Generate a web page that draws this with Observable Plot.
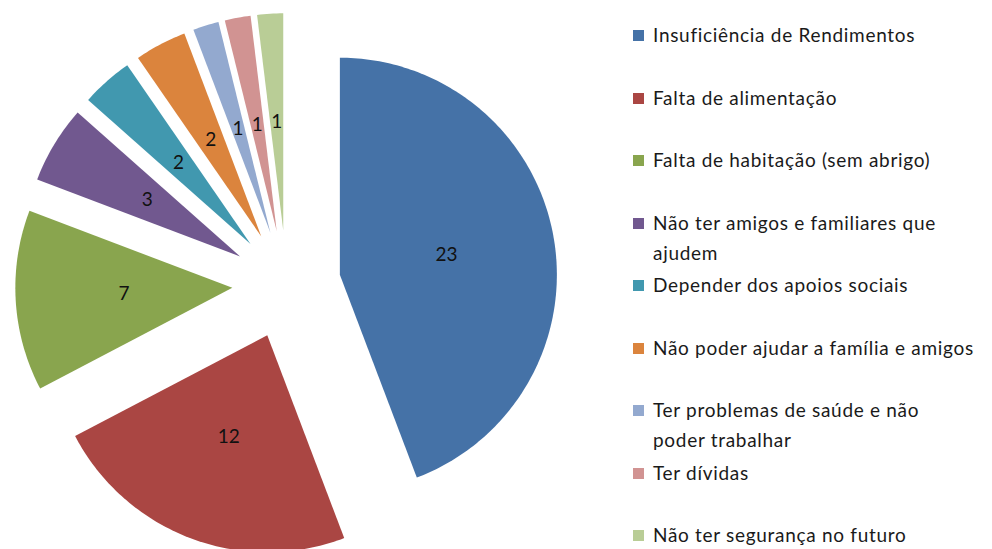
<!DOCTYPE html>
<html>
<head>
<meta charset="utf-8">
<script src="https://cdn.jsdelivr.net/npm/d3@7"></script>
<script src="https://cdn.jsdelivr.net/npm/@observablehq/plot@0.6"></script>
<style>
  html, body { margin: 0; padding: 0; background: #fff; }
  #wrap { position: relative; width: 992px; height: 549px; overflow: hidden; font-family: Lato, "Open Sans", sans-serif; }
  #chart { position: absolute; left: 0; top: 0; }
  #legend { position: absolute; left: 633px; top: 0; width: 359px; }
  .item { position: absolute; left: 0; display: flex; align-items: flex-start; font-size: 19px; line-height: 30px; color: #1a1a1a; white-space: nowrap; letter-spacing: 0.7px; }
  .sw { width: 11px; height: 11px; margin-top: 10px; margin-right: 9px; flex: none; }
</style>
</head>
<body>
<div id="wrap"><div id="chart"></div><div id="legend"></div></div>
<script>
// ---- data ----
const categories = [
  "Insuficiência de Rendimentos",
  "Falta de alimentação",
  "Falta de habitação (sem abrigo)",
  "Não ter amigos e familiares que ajudem",
  "Depender dos apoios sociais",
  "Não poder ajudar a família e amigos",
  "Ter problemas de saúde e não poder trabalhar",
  "Ter dívidas",
  "Não ter segurança no futuro"
];
const values = [23, 12, 7, 3, 2, 2, 1, 1, 1];
const legendLines = [
  ["Insuficiência de Rendimentos"],
  ["Falta de alimentação"],
  ["Falta de habitação (sem abrigo)"],
  ["Não ter amigos e familiares que", "ajudem"],
  ["Depender dos apoios sociais"],
  ["Não poder ajudar a família e amigos"],
  ["Ter problemas de saúde e não", "poder trabalhar"],
  ["Ter dívidas"],
  ["Não ter segurança no futuro"]
];
const colors = ["#4572A7", "#AA4643", "#89A54E", "#71588F", "#4198AF", "#DB843D", "#93A9CF", "#D19392", "#B9CD96"];

// ---- layout constants ----
const W = 600, H = 549;
const cx = 286, cy = 284, R = 217;   // pixel centre and radius
const explode = 0.25;                 // explosion, in radius units
const labelR = 0.5;

// ---- build slice polygons from pie angles ----
const pie = d3.pie().sort(null).value(d => d.value);
const arcs = pie(categories.map((c, i) => ({cat: c, value: values[i]})));
const polys = [];
const labels = [];
arcs.forEach(a => {
  const mid = (a.startAngle + a.endAngle) / 2;
  const vx = explode * Math.sin(mid), vy = explode * Math.cos(mid);
  polys.push({cat: a.data.cat, x: vx, y: vy});
  const n = Math.max(8, Math.ceil((a.endAngle - a.startAngle) * 60));
  for (let k = 0; k <= n; k++) {
    const t = a.startAngle + (a.endAngle - a.startAngle) * k / n;
    polys.push({cat: a.data.cat, x: vx + Math.sin(t), y: vy + Math.cos(t)});
  }
  labels.push({cat: a.data.cat, value: a.data.value, x: vx + labelR * Math.sin(mid), y: vy + labelR * Math.cos(mid)});
});

const plot = Plot.plot({
  width: W, height: H, margin: 0,
  style: {fontFamily: "Lato, 'Open Sans', sans-serif", background: "#fff"},
  x: {domain: [-cx / R, (W - cx) / R], axis: null},
  y: {domain: [-(H - cy) / R, cy / R], axis: null},
  color: {domain: categories, range: colors},
  marks: [
    Plot.line(polys, {x: "x", y: "y", z: "cat", fill: "cat", stroke: null, curve: "linear-closed"}),
    Plot.text(labels, {x: "x", y: "y", text: d => String(d.value), fill: "#111", fontSize: 19})
  ]
});
document.getElementById("chart").appendChild(plot);

// ---- legend ----
const leg = document.getElementById("legend");
legendLines.forEach((lines, i) => {
  const it = document.createElement("div");
  it.className = "item";
  it.style.top = (35 + 62.5 * i - 15) + "px";
  const sw = document.createElement("span");
  sw.className = "sw";
  sw.style.background = colors[i];
  const tx = document.createElement("span");
  tx.innerHTML = lines.join("<br>");
  it.appendChild(sw); it.appendChild(tx);
  leg.appendChild(it);
});
</script>
</body>
</html>
